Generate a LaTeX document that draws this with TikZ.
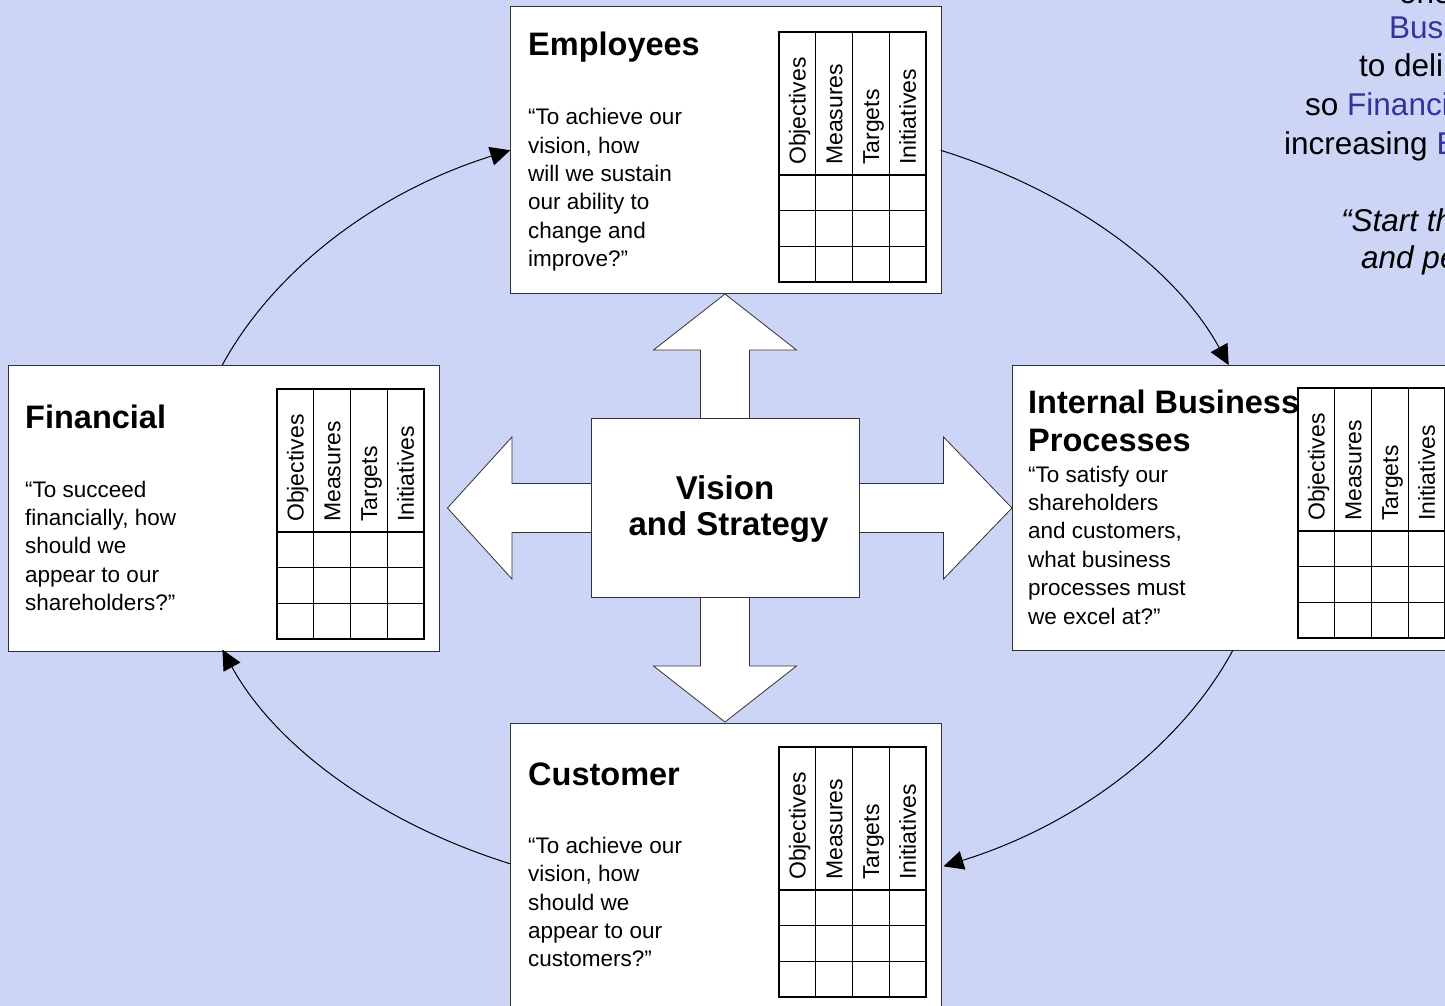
\documentclass[tikz,border=0pt]{standalone}
\usepackage{fontspec}
\setmainfont{Liberation Sans}
\usetikzlibrary{arrows.meta}
\definecolor{bgblue}{RGB}{204,213,246}
\definecolor{txtblue}{RGB}{51,51,160}
\definecolor{edge}{RGB}{50,50,50}
\tikzset{
  box/.style={draw=edge, fill=white, line width=1pt, inner sep=0pt, outer sep=0pt, anchor=north west},
  ttl/.style={font=\fontsize{32.5}{38}\selectfont\bfseries, anchor=base west, inner sep=0pt},
  body/.style={font=\fontsize{22.5}{28.4}\selectfont, align=left, anchor=north west, inner sep=0pt},
  gridline/.style={line width=1.3pt, draw=black},
  lbl/.style={font=\fontsize{23}{23}\selectfont, rotate=90, anchor=base west, inner sep=0pt},
  bigarrow/.style={draw=edge, fill=white, line width=0.8pt, line join=miter},
  cyc/.style={draw=black, line width=1pt, -{Triangle[length=20pt,width=19pt]}},
  side/.style={font=\fontsize{31.5}{38}\selectfont, anchor=base west, inner sep=0pt},
}
\newcommand\bsctable[2]{%
  \begin{scope}[shift={#2}]
    \draw[gridline] (0,0) rectangle (147,-250);
    \foreach \xx in {36.75,73.5,110.25} \draw[gridline] (\xx,0) -- (\xx,-250);
    \foreach \yy in {-143,-178.7,-214.3} \draw[gridline] (0,\yy) -- (147,\yy);
    \node[lbl] (#1obj) at (26.5,-133) {Objectives};
    \node[lbl] (#1mea) at (63.25,-133) {Measures};
    \node[lbl] (#1tar) at (100,-133) {Targets};
    \node[lbl] (#1ini) at (136.75,-133) {Initiatives};
  \end{scope}}
\begin{document}
\begin{tikzpicture}[x=1pt,y=1pt]
  \clip (0,0) rectangle (1445,-1006);
  \fill[bgblue] (0,0) rectangle (1445,-1006);

  % side text (top right, cut by the page edge)
  \node[side] (s1) at (1399,-3.5) {one};
  \node[side, text=txtblue] (s2) at (1389,-39) {Bus};
  \node[side] (s3) at (1359,-77) {to deli};
  \node[side] (s4) at (1305,-116) {so \textcolor{txtblue}{Financi}};
  \node[side] (s5) at (1284,-154) {increasing \textcolor{txtblue}{B}};
  \node[side, font=\fontsize{31.5}{38}\selectfont\itshape] (s6) at (1341,-231) {“Start th};
  \node[side, font=\fontsize{31.5}{38}\selectfont\itshape] (s7) at (1361,-268) {and pe};

  % perspective boxes
  \node[box, minimum width=431, minimum height=286] (emp) at (510,-7) {};
  \node[box, minimum width=431, minimum height=286] (fin) at (8,-365) {};
  \node[box, minimum width=460, minimum height=285] (ibp) at (1012,-365) {};
  \node[box, minimum width=431, minimum height=300] (cus) at (510,-723) {};

  % cycle connectors (one ellipse round the centre)
  \coordinate (c1) at ([xshift=214.3]fin.north west);
  \coordinate (c2) at ([xshift=-0.3,yshift=-143.3]emp.north east);
  \coordinate (c3) at ([xshift=221,yshift=-285]ibp.north west);
  \coordinate (c4) at ([yshift=-140.7]cus.north west);
  \draw[cyc] (c1) arc[start angle=158.6, end angle=113.5, x radius=541pt, y radius=389pt];
  \draw[cyc] (c2) arc[start angle=66.5, end angle=21.4, x radius=541pt, y radius=389pt];
  \draw[cyc] (c3) arc[start angle=-21.2, end angle=-66.6, x radius=541pt, y radius=389pt];
  \draw[cyc] (c4) arc[start angle=-113.5, end angle=-158.5, x radius=541pt, y radius=389pt];

  % big arrows from the centre
  \draw[bigarrow] (700.5,-508) -- (700.5,-350) -- (653.5,-350) -- (725,-294) -- (796.5,-350) -- (749.5,-350) -- (749.5,-508) -- cycle;
  \draw[bigarrow] (700.5,-508) -- (700.5,-666) -- (653.5,-666) -- (725,-722) -- (796.5,-666) -- (749.5,-666) -- (749.5,-508) -- cycle;
  \draw[bigarrow] (725,-483.5) -- (512,-483.5) -- (512,-437) -- (447.5,-508) -- (512,-579) -- (512,-532.5) -- (725,-532.5) -- cycle;
  \draw[bigarrow] (725,-483.5) -- (943.5,-483.5) -- (943.5,-437) -- (1012,-508) -- (943.5,-579) -- (943.5,-532.5) -- (725,-532.5) -- cycle;

  % vision box
  \node[box, minimum width=268, minimum height=179] (vis) at (591,-418) {};
  \node[anchor=north, align=center, inner sep=0pt, font=\fontsize{33}{36}\selectfont\bfseries] (vistxt) at (725,-475.4) {Vision\\\hspace*{7pt}and Strategy};

  % titles
  \node[ttl] (empT) at (528,-56) {Employees};
  \node[ttl] (finT) at (25,-428) {Financial};
  \node[ttl, anchor=north west, align=left] (ibpT) at (1028,-389.5) {Internal Business\\Processes};
  \node[ttl] (cusT) at (528,-785.5) {Customer};

  % questions
  \node[body] (empB) at (528,-108.2) {“To achieve our\\vision, how\\will we sustain\\our ability to\\change and\\improve?”};
  \node[body] (finB) at (25,-480.5) {“To succeed\\financially, how\\should we\\appear to our\\shareholders?”};
  \node[body] (ibpB) at (1028,-465.5) {“To satisfy our\\shareholders\\and customers,\\what business\\processes must\\we excel at?”};
  \node[body] (cusB) at (528,-836.7) {“To achieve our\\vision, how\\should we\\appear to our\\customers?”};

  % scorecard tables
  \bsctable{empt}{(779,-32)}
  \bsctable{fint}{(277,-389)}
  \bsctable{ibpt}{(1298,-388)}
  \bsctable{cust}{(779,-747)}
\end{tikzpicture}
\end{document}
